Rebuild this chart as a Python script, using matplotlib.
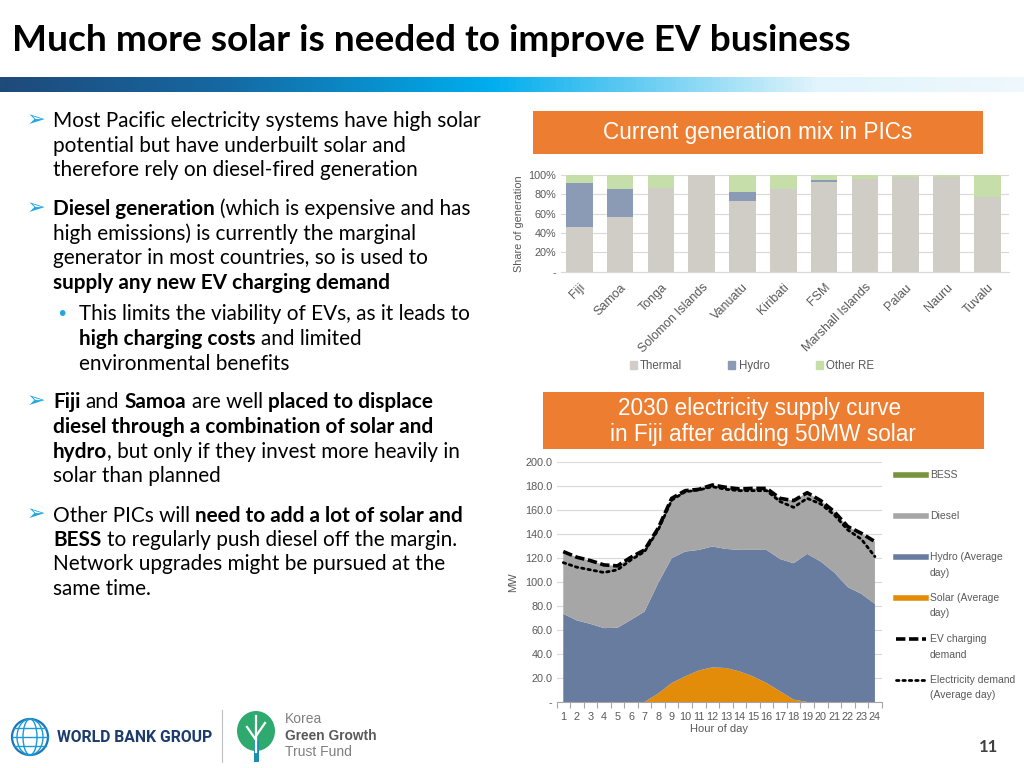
import matplotlib
matplotlib.use("Agg")
import matplotlib.pyplot as plt
import numpy as np
from matplotlib.lines import Line2D
from matplotlib.patches import Rectangle, Patch, Ellipse
from matplotlib.colors import LinearSegmentedColormap

# ---------------- data ----------------
countries = ["Fiji", "Samoa", "Tonga", "Solomon Islands", "Vanuatu", "Kiribati",
             "FSM", "Marshall Islands", "Palau", "Nauru", "Tuvalu"]
thermal = [46, 57, 87, 100, 73, 86, 93, 96, 98, 98, 77]
hydro_share = [46, 29, 0, 0, 9, 0, 2, 0, 0, 0, 0]
other_re = [8, 14, 13, 0, 18, 14, 5, 4, 2, 2, 23]
share_ticks = [0, 20, 40, 60, 80, 100]
share_ticklabels = ["-", "20%", "40%", "60%", "80%", "100%"]

hours = list(range(1, 25))
solar = [0, 0, 0, 0, 0, 0, 0, 7, 15.8, 21.3, 26.3, 28.8, 28.3, 25.5, 21.3, 15.8, 8.9, 2.0, 0, 0, 0, 0, 0, 0]
hydro = [73.4, 67.9, 65.0, 61.5, 61.8, 68.4, 75.3, 91.9, 103.9, 103.9, 100.3, 100.6, 99.1, 101.1, 105.3, 110.8, 110.1, 113.5, 123.3, 116.9, 107.8, 95.6, 90.0, 81.7]
diesel = [51.8, 52.6, 52.7, 52.6, 51.5, 52.1, 51.3, 45.7, 49.8, 50.7, 50.4, 51.2, 51.3, 50.7, 51.2, 51.2, 50.5, 52.1, 50.9, 50.7, 50.6, 50.4, 50.4, 51.8]
bess = [0, 0, 0, 0, 0, 0, 0, 0, 0, 0, 0, 0, 0, 0, 0, 0, 0, 0, 0, 0, 0, 0, 0, 0]
ev_demand = [125.2, 120.5, 117.7, 114.1, 113.3, 120.5, 126.6, 144.6, 169.5, 175.9, 177.0, 180.6, 178.7, 177.3, 177.8, 177.8, 169.5, 167.6, 174.2, 167.6, 158.4, 146.0, 140.4, 133.5]
elec_demand = [116.0, 112.2, 110.0, 107.8, 110.0, 118.3, 125.2, 143.2, 168.0, 175.0, 176.5, 179.2, 177.0, 175.9, 175.9, 175.9, 166.8, 162.0, 169.5, 164.8, 155.7, 143.2, 135.5, 121.0]
mw_ticks = [0, 20, 40, 60, 80, 100, 120, 140, 160, 180, 200]
mw_ticklabels = ["-", "20.0", "40.0", "60.0", "80.0", "100.0", "120.0", "140.0", "160.0", "180.0", "200.0"]

# ---------------- setup ----------------
W, H = 1024, 768
fig = plt.figure(figsize=(10.24, 7.68), dpi=100)
fig.patch.set_facecolor("white")
r = fig.canvas.get_renderer()
BODY = "Lato"
CH = "Liberation Sans"
GREY = "#595959"


def fx(x):
    return x / W


def fy(y):
    return 1 - y / H


def ftext(x, y, s, size, fit=None, **kw):
    t = fig.text(fx(x), fy(y), s, fontsize=size, **kw)
    if fit:
        w = t.get_window_extent(r).width
        t.set_fontsize(size * fit / w)
    return t


# ---------------- title & gradient ----------------
ftext(12, 51, "Much more solar is needed to improve EV business", 24, fit=838,
      family=BODY, fontweight="bold", color="black", va="baseline", ha="left")

axg = fig.add_axes([0, fy(92), 1, 15 / H])
cmap = LinearSegmentedColormap.from_list("g", [(0, "#1F4A7A"), (0.22, "#1569A3"),
                                               (0.48, "#00AEEF"), (0.62, "#62CBF2"),
                                               (0.8, "#E2F4FC"), (1, "#EEF8FD")])
axg.imshow(np.linspace(0, 1, 512)[None, :], aspect="auto", cmap=cmap, extent=[0, 1, 0, 1])
axg.axis("off")

# ---------------- bullet text ----------------
ref = fig.text(0, 0, "x x", fontsize=14, family=BODY)
ref2 = fig.text(0, 0, "xx", fontsize=14, family=BODY)
probe = fig.text(0, 0, "Most Pacific electricity systems have high solar", fontsize=14, family=BODY)
SIZE = 14 * 429 / probe.get_window_extent(r).width
for t in (ref, ref2, probe):
    t.set_fontsize(SIZE)
SPACE = ref.get_window_extent(r).width - ref2.get_window_extent(r).width
for t in (ref, ref2, probe):
    t.remove()


def draw_line(x, y, segs):
    for s, bold in segs:
        lead = len(s) - len(s.lstrip(" "))
        trail = len(s) - len(s.rstrip(" "))
        x += lead * SPACE
        core = s.strip(" ")
        t = fig.text(fx(x), fy(y), core, fontsize=SIZE, family=BODY,
                     fontweight="bold" if bold else "normal", color="black",
                     va="baseline", ha="left")
        x = t.get_window_extent(r).x1 + trail * SPACE


N = False
B = True
blocks = [
    (127, 53, "arrow", [
        [("Most Pacific electricity systems have high solar", N)],
        [("potential but have underbuilt solar and", N)],
        [("therefore rely on diesel-fired generation", N)]]),
    (215, 53, "arrow", [
        [("Diesel generation", B), (" (which is expensive and has", N)],
        [("high emissions) is currently the marginal", N)],
        [("generator in most countries, so is used to", N)],
        [("supply any new EV charging demand", B)]]),
    (320.5, 79, "dot", [
        [("This limits the viability of EVs, as it leads to", N)],
        [("high charging costs", B), (" and limited", N)],
        [("environmental benefits", N)]]),
    (408.5, 53, "arrow", [
        [("Fiji", B), (" and ", N), ("Samoa", B), (" are well ", N), ("placed to displace", B)],
        [("diesel through a combination of solar and", B)],
        [("hydro", B), (", but only if they invest more heavily in", N)],
        [("solar than planned", N)]]),
    (521.5, 53, "arrow", [
        [("Other PICs will ", N), ("need to add a lot of solar and", B)],
        [("BESS", B), (" to regularly push diesel off the margin.", N)],
        [("Network upgrades might be pursued at the", N)],
        [("same time.", N)]]),
]
for y0, x0, kind, lines in blocks:
    if kind == "arrow":
        fig.text(fx(27), fy(y0 - 7), "\u27a2", fontsize=16, family="DejaVu Sans",
                 color="#1EA7E0", va="center", ha="left")
    else:
        fig.text(fx(56), fy(y0), "\u2022", fontsize=14, family="DejaVu Sans",
                 color="#1EA7E0", va="baseline", ha="left")
    for i, segs in enumerate(lines):
        draw_line(x0, y0 + i * 24.5, segs)

# ---------------- orange headers ----------------
ORANGE = "#ED7D31"
fig.patches.append(Rectangle((fx(533), fy(153.5)), 450 / W, 42.5 / H, transform=fig.transFigure,
                             facecolor=ORANGE, edgecolor="none"))
ftext(758, 133, "Current generation mix in PICs", 15, fit=310, family=CH, color="white",
      ha="center", va="center")
fig.patches.append(Rectangle((fx(542.5), fy(448.5)), 441.5 / W, 57 / H, transform=fig.transFigure,
                             facecolor=ORANGE, edgecolor="none"))
ftext(760, 408, "2030 electricity supply curve", 15, fit=284, family=CH, color="white",
      ha="center", va="center")
ftext(763, 435, "in Fiji after adding 50MW solar", 15, fit=306, family=CH, color="white",
      ha="center", va="center")

# ---------------- top chart ----------------
ax1 = fig.add_axes([fx(560.5), fy(271.7), 448.8 / W, 96.7 / H])
xi = np.arange(len(countries))
th = np.array(thermal)
hy = np.array(hydro_share)
ot = np.array(other_re)
ax1.bar(xi, th, 0.65, color="#D0CDC6", label="Thermal", zorder=3)
ax1.bar(xi, hy, 0.65, bottom=th, color="#8C9BB5", label="Hydro", zorder=3)
ax1.bar(xi, ot, 0.65, bottom=th + hy, color="#C6DFAA", label="Other RE", zorder=3)
ax1.set_xlim(-0.46, 10.54)
ax1.set_ylim(0, 100)
ax1.set_yticks(share_ticks)
ax1.set_yticklabels(share_ticklabels, fontsize=7.8, color=GREY, family=CH)
ax1.set_xticks(xi)
ax1.set_xticklabels(countries, rotation=45, ha="right", rotation_mode="anchor",
                    fontsize=9, color=GREY, family=CH)
ax1.tick_params(length=0, pad=3)
ax1.tick_params(axis="x", pad=7)
ax1.grid(axis="y", color="#D9D9D9", lw=0.8, zorder=0)
for s in ["top", "left", "right"]:
    ax1.spines[s].set_visible(False)
ax1.spines["bottom"].set_color("#D9D9D9")
ax1.set_ylabel("Share of generation", fontsize=7.8, color=GREY, family=CH, labelpad=3)
ax1.set_facecolor("none")
h1 = [Patch(color="#D0CDC6"), Patch(color="#8C9BB5"), Patch(color="#C6DFAA")]
fig.legend(h1, ["Thermal", "Hydro", "Other RE"], loc="center", bbox_to_anchor=(fx(752), fy(366)),
           ncol=3, frameon=False, handlelength=0.6, handleheight=0.6, handletextpad=0.3,
           columnspacing=4.0, prop={"family": CH, "size": 8.3}, labelcolor=GREY)

# ---------------- bottom chart ----------------
ax2 = fig.add_axes([fx(556.5), fy(702), 325.2 / W, 240.3 / H])
C_SOLAR, C_HYDRO, C_DIESEL, C_BESS = "#E28C0A", "#687CA0", "#A6A6A6", "#77933C"
ax2.stackplot(hours, solar, hydro, diesel, bess,
              colors=[C_SOLAR, C_HYDRO, C_DIESEL, C_BESS], zorder=2, lw=0)
ax2.plot(hours, elec_demand, color="black", lw=2.0, linestyle=(0, (0.9, 1.4)),
         dash_capstyle="round", zorder=4)
ax2.plot(hours, ev_demand, color="black", lw=2.6, linestyle=(0, (2.6, 1.0)), zorder=5)
ax2.set_xlim(0.5, 24.5)
ax2.set_ylim(0, 200)
ax2.set_yticks(mw_ticks)
ax2.set_yticklabels(mw_ticklabels, fontsize=7.8, color=GREY, family=CH)
ax2.set_xticks(hours)
ax2.set_xticklabels([str(h) for h in hours], fontsize=7.8, color=GREY, family=CH)
ax2.set_xticks(np.arange(0.5, 25, 1), minor=True)
ax2.tick_params(axis="both", which="major", length=0, pad=3)
ax2.tick_params(axis="x", which="minor", length=4, color="#A6A6A6", width=0.8)
ax2.tick_params(axis="x", which="major", pad=7)
ax2.grid(axis="y", color="#D9D9D9", lw=0.8, zorder=0)
ax2.set_axisbelow(True)
for s in ["top", "left", "right"]:
    ax2.spines[s].set_visible(False)
ax2.spines["bottom"].set_color("#A6A6A6")
ax2.set_xlabel("Hour of day", fontsize=8, color=GREY, family=CH, labelpad=2)
ax2.set_ylabel("MW", fontsize=8, color=GREY, family=CH, labelpad=5)
ax2.set_facecolor("none")

leg_items = [
    ("BESS", dict(color=C_BESS, lw=4.0), 475),
    ("Diesel", dict(color=C_DIESEL, lw=4.0), 516),
    ("Hydro (Average\nday)", dict(color=C_HYDRO, lw=4.0), 557),
    ("Solar (Average\nday)", dict(color=C_SOLAR, lw=4.0), 598),
    ("EV charging\ndemand", dict(color="black", lw=2.6, linestyle=(0, (2.6, 1.0))), 639),
    ("Electricity demand\n(Average day)", dict(color="black", lw=2.0, linestyle=(0, (0.9, 1.4)),
                                               dash_capstyle="round"), 680),
]
for label, style, yy in leg_items:
    fig.add_artist(Line2D([fx(896), fx(926)], [fy(yy), fy(yy)], transform=fig.transFigure, **style))
    for j, part in enumerate(label.split("\n")):
        fig.text(fx(930), fy(yy + j * 15.5), part, fontsize=7.5, family=CH, color=GREY,
                 va="center", ha="left")

# ---------------- footer ----------------
WB = "#1D3C6E"
globe_c = (fx(30), fy(737))
fig.patches.append(Ellipse(globe_c, 36 / W, 36 / H, transform=fig.transFigure, facecolor="none",
                           edgecolor="#1A75BB", lw=1.6))
for wdt in [26, 14]:
    fig.patches.append(Ellipse(globe_c, wdt / W, 36 / H, transform=fig.transFigure,
                               facecolor="none", edgecolor="#1A9AD6", lw=1.0))
for dy in [-9, 0, 9]:
    half = np.sqrt(max(18 ** 2 - dy ** 2, 0))
    fig.add_artist(Line2D([fx(30 - half), fx(30 + half)], [fy(737 + dy)] * 2,
                          transform=fig.transFigure, color="#1A9AD6", lw=1.0))
ftext(57, 737, "WORLD BANK GROUP", 11, fit=155, family="Roboto", fontweight="bold",
      color=WB, va="center", ha="left")
fig.add_artist(Line2D([fx(222), fx(222)], [fy(710), fy(762)], transform=fig.transFigure,
                      color="#BFBFBF", lw=0.8))
fig.patches.append(Ellipse((fx(256), fy(731)), 38 / W, 40 / H, transform=fig.transFigure,
                           facecolor="#2EAA6E", edgecolor="none"))
fig.patches.append(Rectangle((fx(253.5), fy(762)), 5 / W, 22 / H, transform=fig.transFigure,
                             facecolor="#1B8FB0", edgecolor="none"))
for xs, ys in [([256, 256], [752, 716]), ([256, 247], [740, 727]), ([256, 265], [736, 723])]:
    fig.add_artist(Line2D([fx(v) for v in xs], [fy(v) for v in ys], transform=fig.transFigure,
                          color="white", lw=1.6))
ftext(285, 719, "Korea", 10, family=CH, color="#7F7F7F", va="center", ha="left")
ftext(285, 736, "Green Growth", 10, fit=92, family=CH, fontweight="bold", color="#595959",
      va="center", ha="left")
ftext(285, 752, "Trust Fund", 10, family=CH, color="#7F7F7F", va="center", ha="left")
ftext(988, 747, "11", 12, family=BODY, fontweight="bold", color="#404040", va="center", ha="center")

fig.savefig("out.png", dpi=100, facecolor="white")
